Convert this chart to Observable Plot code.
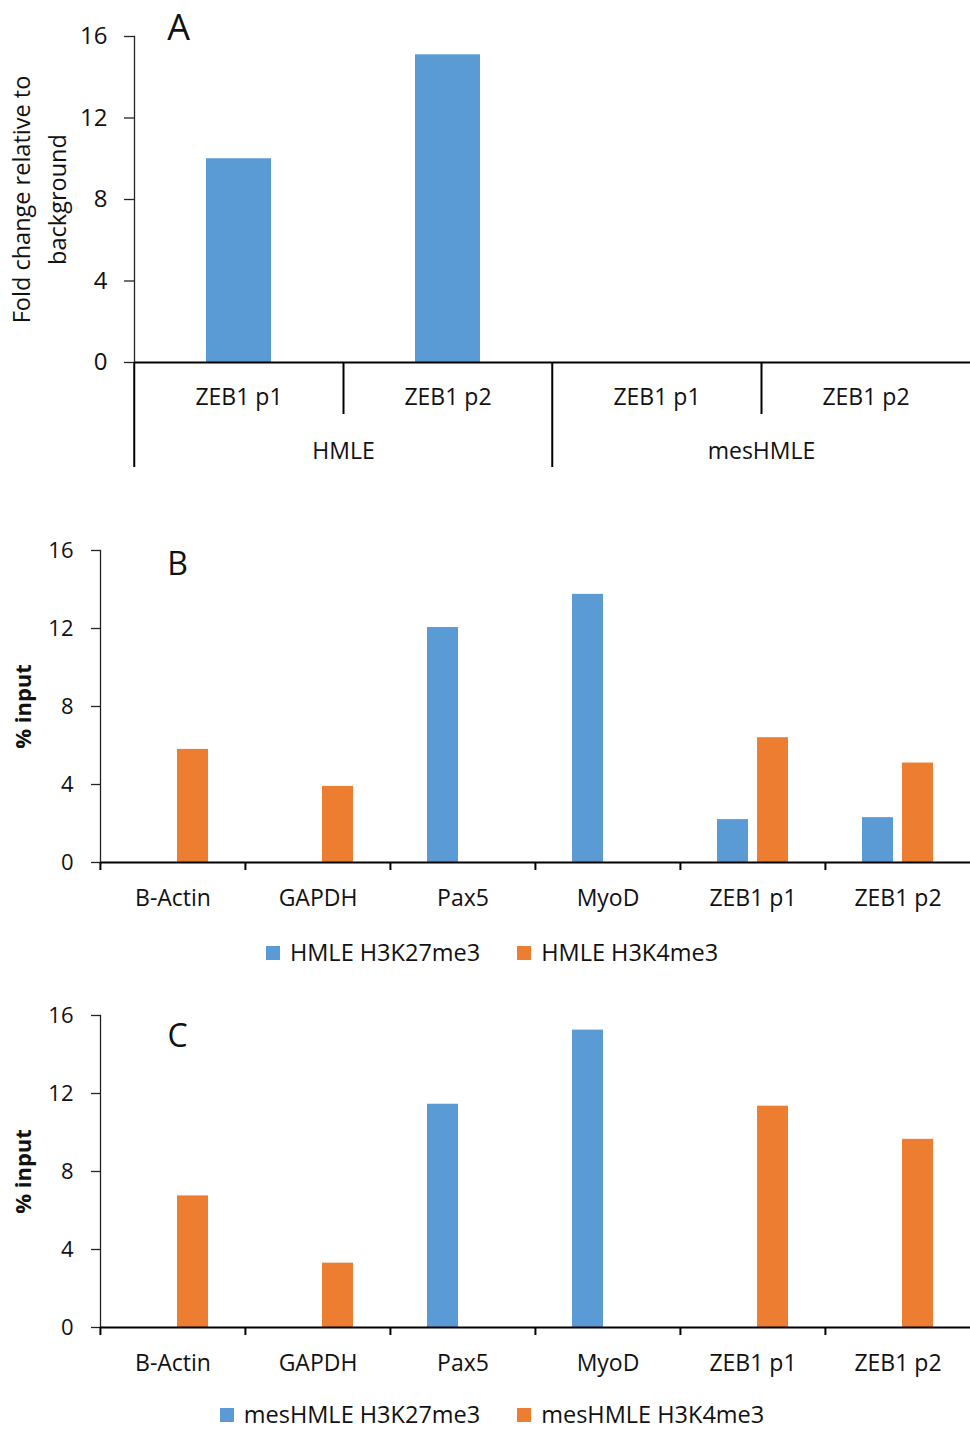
<!DOCTYPE html>
<html><head><meta charset="utf-8">
<script src="https://cdn.jsdelivr.net/npm/d3@7"></script>
<script src="https://cdn.jsdelivr.net/npm/@observablehq/plot@0.6"></script>
<style>
html,body{margin:0;padding:0;background:#fff;overflow:hidden;}
#root{width:970px;height:1430px;position:relative;font-family:"Open Sans",sans-serif;color:#111;}
.panel{position:absolute;left:0;}
.legend{position:absolute;left:0;width:970px;display:flex;justify-content:center;align-items:center;gap:37px;font-size:23.5px;line-height:1.1;padding-left:14px;box-sizing:border-box;}
.legend .item{display:flex;align-items:center;gap:10px;}
.legend .sw{width:14px;height:14px;display:inline-block;}
</style></head><body><div id="root"></div>
<script>
const W = 970;
// ---- Panel A data ----
const cellLines = ["HMLE", "mesHMLE"];
const sitesA = ["ZEB1 p1", "ZEB1 p2"];
const foldHMLE = [10.0, 15.1];
const foldMesHMLE = [0, 0];
const yLabelA = "Fold change relative to\nbackground";

// ---- Panels B & C data ----
const genes = ["B-Actin", "GAPDH", "Pax5", "MyoD", "ZEB1 p1", "ZEB1 p2"];
const seriesB = ["HMLE H3K27me3", "HMLE H3K4me3"];
const hmleK27 = [0, 0, 12.05, 13.75, 2.2, 2.3];
const hmleK4 = [5.8, 3.9, 0, 0, 6.4, 5.1];
const seriesC = ["mesHMLE H3K27me3", "mesHMLE H3K4me3"];
const mesK27 = [0, 0, 11.45, 15.25, 0, 0];
const mesK4 = [6.75, 3.3, 0, 0, 11.35, 9.65];
const yTicks = [0, 4, 8, 12, 16];
const yLabelBC = "% input";
const colors = ["#5B9BD5", "#ED7D31"];

const root = document.getElementById("root");
const FONT = "'Open Sans', sans-serif";

// ---------- Panel A ----------
const dataA = [];
cellLines.forEach((c, ci) => sitesA.forEach((s, si) => {
  dataA.push({cell: c, site: s, value: (ci === 0 ? foldHMLE : foldMesHMLE)[si]});
}));
const mlA = 133, mtA = 36, mbA = 113, hA = 475;
const facetWA = (W - mlA) / cellLines.length;
const plotA = Plot.plot({
  width: W, height: hA, marginLeft: mlA, marginRight: 0, marginTop: mtA, marginBottom: mbA,
  style: {fontFamily: FONT, fontSize: "23px", color: "#111", background: "#fff", overflow: "visible"},
  fx: {domain: cellLines, padding: 0, label: null},
  x: {domain: sitesA, paddingInner: 0.689, paddingOuter: 0.3445, label: null},
  y: {domain: [0, 16], label: null},
  marks: [
    Plot.barY(dataA, {fx: "cell", x: "site", y: "value", fill: colors[0]}),
    Plot.frame({anchor: "left", facetAnchor: "left", stroke: "#222", strokeWidth: 1.3}),
    Plot.axisY({ticks: yTicks, tickSize: 10, tickPadding: 17, fontSize: 24, strokeWidth: 1.3, stroke: "#222", label: null}),
    Plot.ruleY([0], {stroke: "#000", strokeWidth: 2.2}),
    Plot.axisX({anchor: "bottom", tickSize: 0, tickPadding: 26, fontSize: 23, label: null}),
    Plot.axisFx({anchor: "bottom", tickSize: 52, fill: "none", stroke: "#000", strokeWidth: 2, label: null}),
    Plot.axisFx({anchor: "bottom", tickSize: 105, dx: -facetWA / 2, fill: "none", stroke: "#000", strokeWidth: 2, label: null}),
    Plot.axisFx({anchor: "bottom", tickSize: 0, tickPadding: 80, fontSize: 23, label: null}),
    Plot.text([yLabelA], {frameAnchor: "left", rotate: -90, dx: -98, textAnchor: "middle", lineAnchor: "middle", lineHeight: 1.52, fontSize: 23.5, facetAnchor: "left"}),
    Plot.text(["A"], {frameAnchor: "top-left", dx: 44, dy: -8, textAnchor: "middle", lineAnchor: "middle", fontSize: 36, facetAnchor: "left"})
  ]
});
const divA = document.createElement("div");
divA.className = "panel"; divA.style.top = "0px";
divA.appendChild(plotA);
root.appendChild(divA);

// ---------- Panels B & C ----------
function groupedPanel(series, v1, v2, top, mt, letter, letterDy) {
  const data = [];
  genes.forEach((g, i) => {
    data.push({gene: g, series: series[0], value: v1[i]});
    data.push({gene: g, series: series[1], value: v2[i]});
  });
  const ml = 99, mb = 68;
  const h = mt + 312 + mb;
  const facetW = (W - ml) / genes.length;
  const p = Plot.plot({
    width: W, height: h, marginLeft: ml, marginRight: 0, marginTop: mt, marginBottom: mb,
    style: {fontFamily: FONT, fontSize: "23px", color: "#111", background: "#fff", overflow: "visible"},
    fx: {domain: genes, padding: 0, label: null},
    x: {domain: series, paddingInner: 0.22, paddingOuter: 0.88, axis: null, label: null},
    y: {domain: [0, 16], label: null},
    color: {domain: series, range: colors},
    marks: [
      Plot.barY(data, {fx: "gene", x: "series", y: "value", fill: "series"}),
      Plot.frame({anchor: "left", facetAnchor: "left", stroke: "#222", strokeWidth: 1.3}),
      Plot.axisY({ticks: yTicks, tickSize: 9, tickPadding: 18, fontSize: 22, strokeWidth: 1.3, stroke: "#222", label: null}),
      Plot.ruleY([0], {stroke: "#000", strokeWidth: 2.2}),
      Plot.axisFx({anchor: "bottom", tickSize: 8, dx: -facetW / 2, fill: "none", stroke: "#000", strokeWidth: 2, label: null}),
      Plot.axisFx({anchor: "bottom", tickSize: 0, tickPadding: 27, fontSize: 23, label: null}),
      Plot.text([yLabelBC], {frameAnchor: "left", rotate: -90, dx: -77, textAnchor: "middle", lineAnchor: "middle", fontSize: 22, fontWeight: "bold", facetAnchor: "left"}),
      Plot.text([letter], {frameAnchor: "top-left", dx: 77, dy: letterDy, textAnchor: "middle", lineAnchor: "middle", fontSize: 32, facetAnchor: "left"})
    ]
  });
  const d = document.createElement("div");
  d.className = "panel"; d.style.top = top + "px";
  d.appendChild(p);
  root.appendChild(d);
  return top + h;
}

function legend(series, top, height) {
  const lg = document.createElement("div");
  lg.className = "legend";
  lg.style.top = top + "px";
  lg.style.height = height + "px";
  series.forEach((s, i) => {
    const it = document.createElement("div");
    it.className = "item";
    const sw = document.createElement("span");
    sw.className = "sw"; sw.style.background = colors[i];
    const tx = document.createElement("span");
    tx.textContent = s;
    it.appendChild(sw); it.appendChild(tx);
    lg.appendChild(it);
  });
  root.appendChild(lg);
}

const endB = groupedPanel(seriesB, hmleK27, hmleK4, 480, 70, "B", 14);
legend(seriesB, endB, 46);
const endC = groupedPanel(seriesC, mesK27, mesK4, endB + 46, 39, "C", 21);
legend(seriesC, endC + 5, 30);
</script></body></html>
